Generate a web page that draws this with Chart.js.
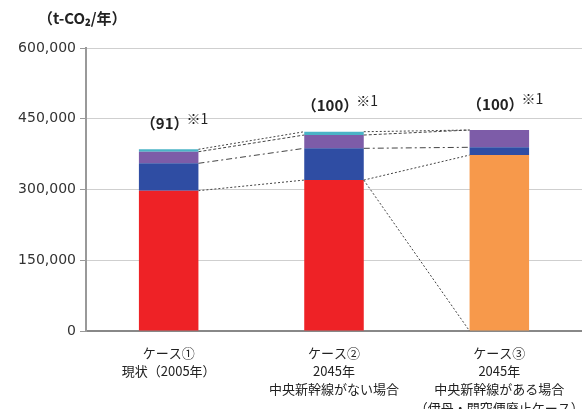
<!DOCTYPE html>
<html>
<head>
<meta charset="utf-8">
<script src="https://cdn.jsdelivr.net/npm/chart.js@4/dist/chart.umd.min.js"></script>
<style>
  html, body { margin: 0; padding: 0; background: #fff; }
  #wrap { width: 582px; height: 409px; }
</style>
</head>
<body>
<div id="wrap"><canvas id="myChart"></canvas></div>
<script>
const categories = [
    ['ケース①', '現状（2005年）'],
    ['ケース②', '2045年', '中央新幹線がない場合'],
    ['ケース③', '2045年', '中央新幹線がある場合', '（伊丹・関空便廃止ケース）']
];
const redValues    = [297500, 320000, 0];
const orangeValues = [0, 0, 373000];
const blueValues   = [58000, 67300, 16500];
const purpleValues = [24600, 28200, 36600];
const cyanValues   = [5100, 7000, 0];
const indexLabels  = ['91', '100', '100'];
const yTicks = [0, 150000, 300000, 450000, 600000];

const jp = '"Noto Sans CJK JP", "Noto Sans", sans-serif';

// dashed lines joining the stack levels of neighbouring bars, plus labels
const extras = {
    id: 'extras',
    afterDatasetsDraw(chart) {
        const c = chart.ctx;
        const y = chart.scales.y;
        const meta = chart.getDatasetMeta(0);
        const levels = categories.map((_, i) => {
            const a = redValues[i] + orangeValues[i];
            const b = a + blueValues[i];
            const p = b + purpleValues[i];
            return [a, b, p, p + cyanValues[i]];
        });
        const dashes = [[2, 2], [6, 3, 2, 3], [3, 2], [2, 2]];
        c.save();
        c.strokeStyle = '#444';
        c.lineWidth = 1;
        for (let i = 0; i < categories.length - 1; i++) {
            const b1 = meta.data[i], b2 = meta.data[i + 1];
            const x1 = b1.x + b1.width / 2, x2 = b2.x - b2.width / 2;
            levels[i].forEach((v, k) => {
                c.setLineDash(dashes[k]);
                c.beginPath();
                c.moveTo(x1, y.getPixelForValue(v));
                c.lineTo(x2, y.getPixelForValue(levels[i + 1][k]));
                c.stroke();
            });
        }
        // red part of case 2 disappears in case 3
        const b2 = meta.data[1], b3 = meta.data[2];
        c.setLineDash([2, 2]);
        c.beginPath();
        c.moveTo(b2.x + b2.width / 2, y.getPixelForValue(redValues[1]));
        c.lineTo(b3.x - b3.width / 2, y.getPixelForValue(0));
        c.stroke();
        c.setLineDash([]);

        // index labels above bars
        c.fillStyle = '#222';
        c.textBaseline = 'middle';
        levels.forEach((lv, i) => {
            const bx = meta.data[i].x;
            const by = y.getPixelForValue(lv[3]) - 26;
            const txt = '（' + indexLabels[i] + '）';
            c.font = 'bold 15px ' + jp;
            c.textAlign = 'center';
            c.fillText(txt, bx - 4, by);
            const w = c.measureText(txt).width;
            c.font = '14px ' + jp;
            c.textAlign = 'left';
            c.fillText('※1', bx - 4 + w / 2 - 2, by - 5);
        });

        // unit title
        c.font = 'bold 15px ' + jp;
        c.textAlign = 'left';
        c.fillText('（t-CO₂/年）', 38, 18);
        c.restore();
    }
};

const ctx = document.getElementById('myChart');
new Chart(ctx, {
    type: 'bar',
    data: {
        labels: categories,
        datasets: [
            { label: 'red', data: redValues, backgroundColor: '#ee2226' },
            { label: 'orange', data: orangeValues, backgroundColor: '#f7994b' },
            { label: 'blue', data: blueValues, backgroundColor: '#2f4da3' },
            { label: 'purple', data: purpleValues, backgroundColor: '#7d5ca8' },
            { label: 'cyan', data: cyanValues, backgroundColor: '#4ab3c6' }
        ]
    },
    options: {
        responsive: true,
        maintainAspectRatio: false,
        animation: false,
        devicePixelRatio: 1,
        layout: { padding: { top: 48, right: 0, left: 0, bottom: 0 } },
        datasets: { bar: { categoryPercentage: 1, barPercentage: 0.36, borderWidth: 0 } },
        plugins: { legend: { display: false }, tooltip: { enabled: false } },
        scales: {
            x: {
                stacked: true,
                grid: { display: false },
                border: { color: '#888', width: 2 },
                ticks: {
                    color: '#222',
                    padding: 5,
                    maxRotation: 0,
                    autoSkip: false,
                    font: { family: jp, size: 13, lineHeight: 1.4 }
                },
                afterFit(s) {
                    s.height = 78;
                    s.paddingLeft = 0;
                    s.paddingRight = 0;
                }
            },
            y: {
                stacked: true,
                min: 0,
                max: 600000,
                afterBuildTicks(s) { s.ticks = yTicks.map(v => ({ value: v })); },
                grid: { color: '#cfcfcf', tickLength: 6, tickColor: '#999' },
                border: { color: '#999', width: 2 },
                ticks: {
                    color: '#333',
                    padding: 4,
                    font: { family: '"DejaVu Sans", sans-serif', size: 14 },
                    callback: v => v.toLocaleString('en-US')
                },
                afterFit(s) { s.width = 86; }
            }
        }
    },
    plugins: [extras]
});
</script>
</body>
</html>
